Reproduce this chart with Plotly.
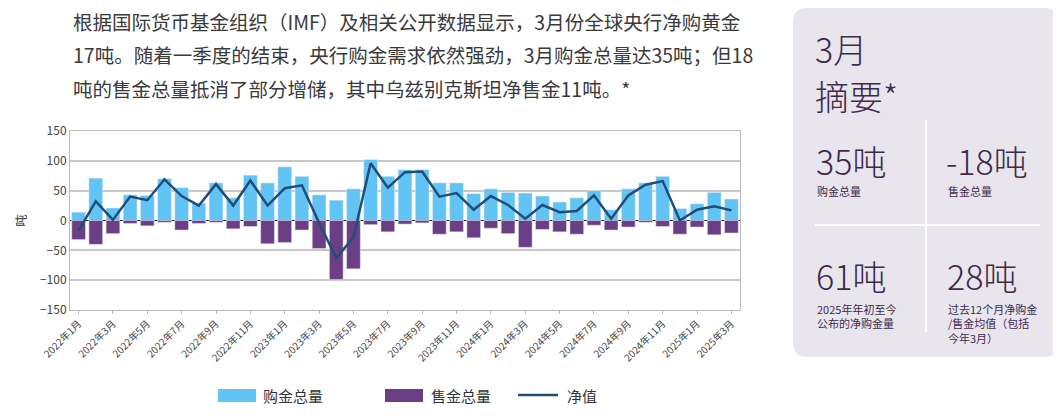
import plotly.graph_objects as go

months = [f"{y}年{m}月" for y, mm in [(2022, range(1, 13)), (2023, range(1, 13)), (2024, range(1, 13)), (2025, range(1, 4))] for m in mm]
buys = [14, 71, 21, 43, 42, 70, 55, 29, 63, 38, 76, 63,
        90, 74, 43, 34, 53, 102, 74, 85, 85, 63, 63, 45,
        53, 47, 46, 41, 31, 38, 50, 18, 53, 63, 74, 20,
        28, 47, 36]
sells = [-32, -40, -22, -5, -9, -3, -16, -5, -3, -14, -10, -39,
         -37, -16, -47, -99, -81, -7, -19, -6, -4, -23, -19, -29,
         -13, -22, -45, -15, -19, -23, -8, -16, -11, -3, -10, -23,
         -11, -24, -21]
net = [-17, 32, 1, 40, 34, 69, 41, 25, 61, 25, 67, 25,
       54, 59, -4, -63, -28, 96, 55, 81, 82, 40, 46, 18,
       41, 26, 3, 26, 14, 16, 42, 3, 42, 60, 66, 0,
       18, 24, 17]
tick_labels = months[::2]
names = ["购金总量", "售金总量", "净值"]
colors = ["#62c3f5", "#6b3f86", "#1f4e79"]

OFF = 8
W, H = 1061 - 2 * OFF, 419 - 2 * OFF
fig = go.Figure()
fig.add_bar(x=months, y=buys, name=names[0], marker_color=colors[0], offsetgroup="a")
fig.add_bar(x=months, y=sells, name=names[1], marker_color=colors[1], offsetgroup="a")
fig.add_scatter(x=months, y=net, name=names[2], mode="lines", line=dict(color=colors[2], width=2.5))

def px(x): return (x - OFF) / W
def py(y): return 1 - (y - OFF) / H

fig.update_layout(
    width=W, height=H, margin=dict(l=0, r=0, t=0, b=0, autoexpand=False),
    plot_bgcolor="white", paper_bgcolor="white",
    barmode="relative", bargap=0.2, showlegend=False,
    font=dict(family="Noto Sans CJK SC", color="#333"),
    xaxis=dict(domain=[px(70), px(740)], type="category", tickvals=tick_labels, ticktext=tick_labels,
               tickangle=-45, tickfont=dict(size=10, color="#444"), showgrid=False, automargin=False,
               showline=True, linecolor="#bbb", mirror=True, ticks="outside", ticklen=3, tickcolor="#bbb"),
    yaxis=dict(domain=[py(310), py(131)], range=[-150, 150], dtick=50, gridcolor="#c8c8c8", gridwidth=1.5,
               zeroline=True, zerolinecolor="#222", zerolinewidth=1.2, automargin=False,
               showline=True, linecolor="#bbb", mirror=True, tickfont=dict(size=12, color="#444"),
               title=dict(text="吨", font=dict(size=12), standoff=10)),
)

# manual legend
fig.add_shape(type="rect", xref="paper", yref="paper", x0=px(218), x1=px(256), y0=py(402), y1=py(389),
              fillcolor=colors[0], line=dict(width=0))
fig.add_shape(type="rect", xref="paper", yref="paper", x0=px(385), x1=px(423), y0=py(402), y1=py(389),
              fillcolor=colors[1], line=dict(width=0))
fig.add_shape(type="line", xref="paper", yref="paper", x0=px(518), x1=px(558), y0=py(395), y1=py(395),
              line=dict(color=colors[2], width=2.5))
for t, x in zip(names, [261, 429, 565]):
    fig.add_annotation(text=t, x=px(x), y=py(395), xref="paper", yref="paper", xanchor="left",
                       yanchor="middle", showarrow=False, font=dict(size=15, color="#333"))

lines = ["根据国际货币基金组织（IMF）及相关公开数据显示，3月份全球央行净购黄金",
         "17吨。随着一季度的结束，央行购金需求依然强劲，3月购金总量达35吨；但18",
         "吨的售金总量抵消了部分增储，其中乌兹别克斯坦净售金11吨。*"]
for i, t in enumerate(lines):
    fig.add_annotation(text=t, x=px(71), y=py(22 + 33 * i), xref="paper", yref="paper",
                       xanchor="left", yanchor="middle", showarrow=False, font=dict(size=19.5, color="#3a3a3a"))

# summary panel (rounded rect)
x0, x1, y0, y1, r = px(793), px(1058), py(357), py(8), 14
rx, ry = r / W, r / H
path = (f"M {x0+rx},{y0} L {x1-rx},{y0} Q {x1},{y0} {x1},{y0+ry} L {x1},{y1-ry} Q {x1},{y1} {x1-rx},{y1} "
        f"L {x0+rx},{y1} Q {x0},{y1} {x0},{y1-ry} L {x0},{y0+ry} Q {x0},{y0} {x0+rx},{y0} Z")
fig.add_shape(type="path", path=path, xref="paper", yref="paper",
              fillcolor="#e9e5ec", line=dict(width=0), layer="below")
fig.add_shape(type="line", xref="paper", yref="paper", x0=px(926), x1=px(926), y0=py(332), y1=py(120),
              line=dict(color="white", width=2))
fig.add_shape(type="line", xref="paper", yref="paper", x0=px(815), x1=px(1040), y0=py(225), y1=py(225),
              line=dict(color="white", width=2))
pc = "#3d2a4d"
def ann(t, x, y, s, anchor="middle", weight=400):
    fig.add_annotation(text=t, x=px(x), y=py(y), xref="paper", yref="paper", xanchor="left",
                       yanchor=anchor, showarrow=False, align="left",
                       font=dict(size=s, color=pc, weight=weight))
ann("3月", 813, 49, 34, weight=300)
ann("摘要*", 813, 95, 34, weight=300)
ann("35吨", 814, 160, 34, weight=300)
ann("购金总量", 815, 191, 11)
ann("-18吨", 944, 160, 34, weight=300)
ann("售金总量", 946, 191, 11)
ann("61吨", 814, 275, 34, weight=300)
ann("2025年年初至今<br>公布的净购金量", 815, 299, 11, "top")
ann("28吨", 945, 275, 34, weight=300)
ann("过去12个月净购金<br>/售金均值（包括<br>今年3月）", 946, 299, 11, "top")

fig.write_html("out.html")
